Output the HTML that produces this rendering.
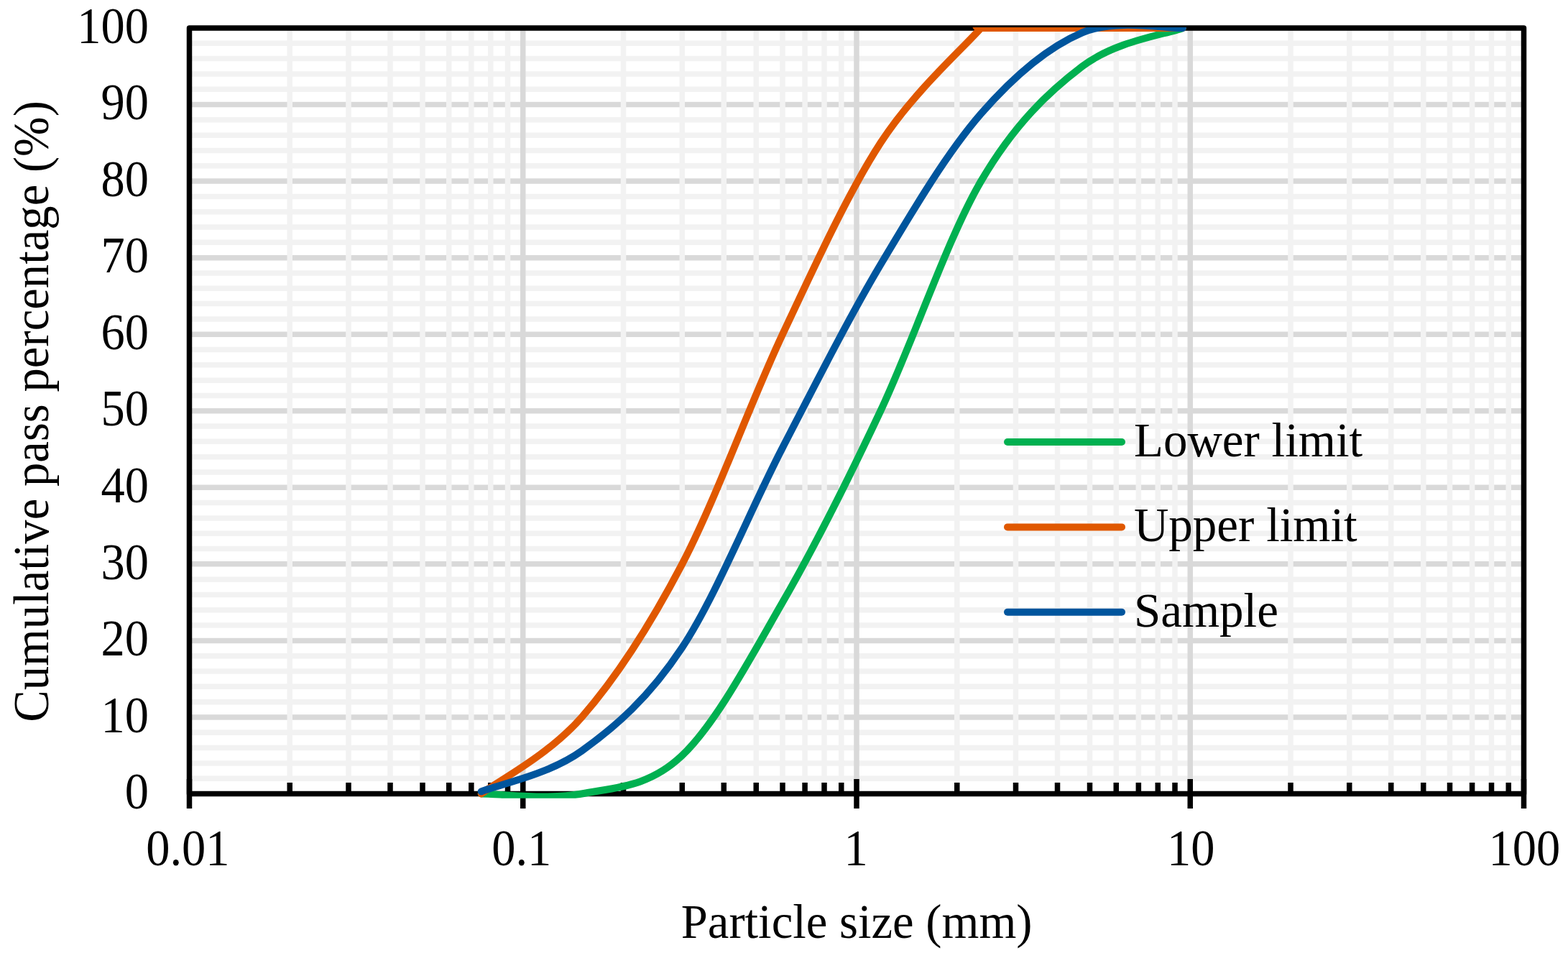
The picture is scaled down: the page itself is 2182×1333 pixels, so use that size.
<!DOCTYPE html><html><head><meta charset="utf-8"><title>Particle size distribution</title>
<style>html,body{margin:0;padding:0;background:#fff;overflow:hidden}svg{display:block}text{font-family:"Liberation Serif", "Times New Roman", serif;fill:#000}</style></head><body>
<svg width="2182" height="1333" viewBox="0 0 2182 1333">
<rect width="2182" height="1333" fill="#fff"/>
<defs><clipPath id="pc"><rect x="0" y="38.0" width="2182" height="1072.8"/></clipPath></defs>
<g stroke="#F2F2F2" stroke-width="7.5">
<line x1="263.5" y1="1083.19" x2="2120.5" y2="1083.19"/>
<line x1="263.5" y1="1061.88" x2="2120.5" y2="1061.88"/>
<line x1="263.5" y1="1040.57" x2="2120.5" y2="1040.57"/>
<line x1="263.5" y1="1019.26" x2="2120.5" y2="1019.26"/>
<line x1="263.5" y1="976.64" x2="2120.5" y2="976.64"/>
<line x1="263.5" y1="955.33" x2="2120.5" y2="955.33"/>
<line x1="263.5" y1="934.02" x2="2120.5" y2="934.02"/>
<line x1="263.5" y1="912.71" x2="2120.5" y2="912.71"/>
<line x1="263.5" y1="870.09" x2="2120.5" y2="870.09"/>
<line x1="263.5" y1="848.78" x2="2120.5" y2="848.78"/>
<line x1="263.5" y1="827.47" x2="2120.5" y2="827.47"/>
<line x1="263.5" y1="806.16" x2="2120.5" y2="806.16"/>
<line x1="263.5" y1="763.54" x2="2120.5" y2="763.54"/>
<line x1="263.5" y1="742.23" x2="2120.5" y2="742.23"/>
<line x1="263.5" y1="720.92" x2="2120.5" y2="720.92"/>
<line x1="263.5" y1="699.61" x2="2120.5" y2="699.61"/>
<line x1="263.5" y1="656.99" x2="2120.5" y2="656.99"/>
<line x1="263.5" y1="635.68" x2="2120.5" y2="635.68"/>
<line x1="263.5" y1="614.37" x2="2120.5" y2="614.37"/>
<line x1="263.5" y1="593.06" x2="2120.5" y2="593.06"/>
<line x1="263.5" y1="550.44" x2="2120.5" y2="550.44"/>
<line x1="263.5" y1="529.13" x2="2120.5" y2="529.13"/>
<line x1="263.5" y1="507.82" x2="2120.5" y2="507.82"/>
<line x1="263.5" y1="486.51" x2="2120.5" y2="486.51"/>
<line x1="263.5" y1="443.89" x2="2120.5" y2="443.89"/>
<line x1="263.5" y1="422.58" x2="2120.5" y2="422.58"/>
<line x1="263.5" y1="401.27" x2="2120.5" y2="401.27"/>
<line x1="263.5" y1="379.96" x2="2120.5" y2="379.96"/>
<line x1="263.5" y1="337.34" x2="2120.5" y2="337.34"/>
<line x1="263.5" y1="316.03" x2="2120.5" y2="316.03"/>
<line x1="263.5" y1="294.72" x2="2120.5" y2="294.72"/>
<line x1="263.5" y1="273.41" x2="2120.5" y2="273.41"/>
<line x1="263.5" y1="230.79" x2="2120.5" y2="230.79"/>
<line x1="263.5" y1="209.48" x2="2120.5" y2="209.48"/>
<line x1="263.5" y1="188.17" x2="2120.5" y2="188.17"/>
<line x1="263.5" y1="166.86" x2="2120.5" y2="166.86"/>
<line x1="263.5" y1="124.24" x2="2120.5" y2="124.24"/>
<line x1="263.5" y1="102.93" x2="2120.5" y2="102.93"/>
<line x1="263.5" y1="81.62" x2="2120.5" y2="81.62"/>
<line x1="263.5" y1="60.31" x2="2120.5" y2="60.31"/>
</g><g stroke="#D9D9D9" stroke-width="7.5">
<line x1="263.5" y1="997.95" x2="2120.5" y2="997.95"/>
<line x1="263.5" y1="891.40" x2="2120.5" y2="891.40"/>
<line x1="263.5" y1="784.85" x2="2120.5" y2="784.85"/>
<line x1="263.5" y1="678.30" x2="2120.5" y2="678.30"/>
<line x1="263.5" y1="571.75" x2="2120.5" y2="571.75"/>
<line x1="263.5" y1="465.20" x2="2120.5" y2="465.20"/>
<line x1="263.5" y1="358.65" x2="2120.5" y2="358.65"/>
<line x1="263.5" y1="252.10" x2="2120.5" y2="252.10"/>
<line x1="263.5" y1="145.55" x2="2120.5" y2="145.55"/>
</g>
<g stroke="#F2F2F2" stroke-width="7.5">
<line x1="403.25" y1="39.0" x2="403.25" y2="1104.5"/>
<line x1="485.00" y1="39.0" x2="485.00" y2="1104.5"/>
<line x1="543.01" y1="39.0" x2="543.01" y2="1104.5"/>
<line x1="588.00" y1="39.0" x2="588.00" y2="1104.5"/>
<line x1="624.76" y1="39.0" x2="624.76" y2="1104.5"/>
<line x1="655.84" y1="39.0" x2="655.84" y2="1104.5"/>
<line x1="682.76" y1="39.0" x2="682.76" y2="1104.5"/>
<line x1="706.51" y1="39.0" x2="706.51" y2="1104.5"/>
<line x1="867.50" y1="39.0" x2="867.50" y2="1104.5"/>
<line x1="949.25" y1="39.0" x2="949.25" y2="1104.5"/>
<line x1="1007.26" y1="39.0" x2="1007.26" y2="1104.5"/>
<line x1="1052.25" y1="39.0" x2="1052.25" y2="1104.5"/>
<line x1="1089.01" y1="39.0" x2="1089.01" y2="1104.5"/>
<line x1="1120.09" y1="39.0" x2="1120.09" y2="1104.5"/>
<line x1="1147.01" y1="39.0" x2="1147.01" y2="1104.5"/>
<line x1="1170.76" y1="39.0" x2="1170.76" y2="1104.5"/>
<line x1="1331.75" y1="39.0" x2="1331.75" y2="1104.5"/>
<line x1="1413.50" y1="39.0" x2="1413.50" y2="1104.5"/>
<line x1="1471.51" y1="39.0" x2="1471.51" y2="1104.5"/>
<line x1="1516.50" y1="39.0" x2="1516.50" y2="1104.5"/>
<line x1="1553.26" y1="39.0" x2="1553.26" y2="1104.5"/>
<line x1="1584.34" y1="39.0" x2="1584.34" y2="1104.5"/>
<line x1="1611.26" y1="39.0" x2="1611.26" y2="1104.5"/>
<line x1="1635.01" y1="39.0" x2="1635.01" y2="1104.5"/>
<line x1="1796.00" y1="39.0" x2="1796.00" y2="1104.5"/>
<line x1="1877.75" y1="39.0" x2="1877.75" y2="1104.5"/>
<line x1="1935.76" y1="39.0" x2="1935.76" y2="1104.5"/>
<line x1="1980.75" y1="39.0" x2="1980.75" y2="1104.5"/>
<line x1="2017.51" y1="39.0" x2="2017.51" y2="1104.5"/>
<line x1="2048.59" y1="39.0" x2="2048.59" y2="1104.5"/>
<line x1="2075.51" y1="39.0" x2="2075.51" y2="1104.5"/>
<line x1="2099.26" y1="39.0" x2="2099.26" y2="1104.5"/>
</g><g stroke="#D9D9D9" stroke-width="7.5">
<line x1="727.75" y1="39.0" x2="727.75" y2="1104.5"/>
<line x1="1192.00" y1="39.0" x2="1192.00" y2="1104.5"/>
<line x1="1656.25" y1="39.0" x2="1656.25" y2="1104.5"/>
</g>
<g stroke="#000" stroke-width="7.5" fill="none">
<rect x="263.5" y="39.0" width="1857.0" height="1065.5" stroke-linejoin="round"/>
<line x1="403.25" y1="1089" x2="403.25" y2="1104.5"/>
<line x1="485.00" y1="1089" x2="485.00" y2="1104.5"/>
<line x1="543.01" y1="1089" x2="543.01" y2="1104.5"/>
<line x1="588.00" y1="1089" x2="588.00" y2="1104.5"/>
<line x1="624.76" y1="1089" x2="624.76" y2="1104.5"/>
<line x1="655.84" y1="1089" x2="655.84" y2="1104.5"/>
<line x1="682.76" y1="1089" x2="682.76" y2="1104.5"/>
<line x1="706.51" y1="1089" x2="706.51" y2="1104.5"/>
<line x1="867.50" y1="1089" x2="867.50" y2="1104.5"/>
<line x1="949.25" y1="1089" x2="949.25" y2="1104.5"/>
<line x1="1007.26" y1="1089" x2="1007.26" y2="1104.5"/>
<line x1="1052.25" y1="1089" x2="1052.25" y2="1104.5"/>
<line x1="1089.01" y1="1089" x2="1089.01" y2="1104.5"/>
<line x1="1120.09" y1="1089" x2="1120.09" y2="1104.5"/>
<line x1="1147.01" y1="1089" x2="1147.01" y2="1104.5"/>
<line x1="1170.76" y1="1089" x2="1170.76" y2="1104.5"/>
<line x1="1331.75" y1="1089" x2="1331.75" y2="1104.5"/>
<line x1="1413.50" y1="1089" x2="1413.50" y2="1104.5"/>
<line x1="1471.51" y1="1089" x2="1471.51" y2="1104.5"/>
<line x1="1516.50" y1="1089" x2="1516.50" y2="1104.5"/>
<line x1="1553.26" y1="1089" x2="1553.26" y2="1104.5"/>
<line x1="1584.34" y1="1089" x2="1584.34" y2="1104.5"/>
<line x1="1611.26" y1="1089" x2="1611.26" y2="1104.5"/>
<line x1="1635.01" y1="1089" x2="1635.01" y2="1104.5"/>
<line x1="1796.00" y1="1089" x2="1796.00" y2="1104.5"/>
<line x1="1877.75" y1="1089" x2="1877.75" y2="1104.5"/>
<line x1="1935.76" y1="1089" x2="1935.76" y2="1104.5"/>
<line x1="1980.75" y1="1089" x2="1980.75" y2="1104.5"/>
<line x1="2017.51" y1="1089" x2="2017.51" y2="1104.5"/>
<line x1="2048.59" y1="1089" x2="2048.59" y2="1104.5"/>
<line x1="2075.51" y1="1089" x2="2075.51" y2="1104.5"/>
<line x1="2099.26" y1="1089" x2="2099.26" y2="1104.5"/>
<line x1="263.50" y1="1084" x2="263.50" y2="1125"/>
<line x1="727.75" y1="1084" x2="727.75" y2="1125"/>
<line x1="1192.00" y1="1084" x2="1192.00" y2="1125"/>
<line x1="1656.25" y1="1084" x2="1656.25" y2="1125"/>
<line x1="2120.50" y1="1084" x2="2120.50" y2="1125"/>
</g>
<g fill="none" stroke-width="10" stroke-linecap="round" stroke-linejoin="round" clip-path="url(#pc)">
<path stroke="#00B050" d="M669.75,1104.50 C693.04,1104.50 762.92,1113.38 809.50,1104.50 C856.08,1095.62 902.67,1095.62 949.25,1051.22 C995.84,1006.83 1042.99,918.04 1089.01,838.12 C1135.03,758.21 1179.35,669.42 1225.37,571.75 C1271.39,474.08 1318.33,332.01 1365.12,252.10 C1411.92,172.19 1459.36,127.79 1506.16,92.27 C1552.95,56.76 1622.62,47.88 1645.91,39.00"/>
<path stroke="#E05800" d="M669.75,1104.50 C693.04,1086.74 762.92,1051.23 809.50,997.95 C856.08,944.68 902.67,873.64 949.25,784.85 C995.84,696.06 1042.99,562.87 1089.01,465.20 C1135.03,367.53 1179.35,269.86 1225.37,198.83 C1271.39,127.79 1341.83,65.64 1365.12,39.00 C1388.42,12.36 1341.62,39.00 1365.12,39.00 C1388.63,39.00 1459.36,39.00 1506.16,39.00 C1552.95,39.00 1622.62,39.00 1645.91,39.00"/>
<path stroke="#00559D" d="M669.75,1101.30 C693.04,1091.89 762.92,1078.22 809.50,1044.83 C856.08,1011.45 902.67,971.31 949.25,900.99 C995.84,830.67 1042.99,711.69 1089.01,622.89 C1135.03,534.10 1179.35,445.67 1225.37,368.24 C1271.39,290.81 1318.33,212.14 1365.12,158.34 C1411.92,104.53 1459.36,65.28 1506.16,45.39 C1552.95,25.50 1622.62,40.07 1645.91,39.00"/>
</g>
<text transform="translate(207,1125.20) scale(1,1.075)" font-size="66.5" text-anchor="end">0</text>
<text transform="translate(207,1018.65) scale(1,1.075)" font-size="66.5" text-anchor="end">10</text>
<text transform="translate(207,912.10) scale(1,1.075)" font-size="66.5" text-anchor="end">20</text>
<text transform="translate(207,805.55) scale(1,1.075)" font-size="66.5" text-anchor="end">30</text>
<text transform="translate(207,699.00) scale(1,1.075)" font-size="66.5" text-anchor="end">40</text>
<text transform="translate(207,592.45) scale(1,1.075)" font-size="66.5" text-anchor="end">50</text>
<text transform="translate(207,485.90) scale(1,1.075)" font-size="66.5" text-anchor="end">60</text>
<text transform="translate(207,379.35) scale(1,1.075)" font-size="66.5" text-anchor="end">70</text>
<text transform="translate(207,272.80) scale(1,1.075)" font-size="66.5" text-anchor="end">80</text>
<text transform="translate(207,166.25) scale(1,1.075)" font-size="66.5" text-anchor="end">90</text>
<text transform="translate(207,59.70) scale(1,1.075)" font-size="66.5" text-anchor="end">100</text>
<text transform="translate(261.35,1203.8) scale(1,1.075)" font-size="66.5" text-anchor="middle">0.01</text>
<text transform="translate(725.70,1203.8) scale(1,1.075)" font-size="66.5" text-anchor="middle">0.1</text>
<text transform="translate(1191.00,1203.8) scale(1,1.075)" font-size="66.5" text-anchor="middle">1</text>
<text transform="translate(1657.20,1203.8) scale(1,1.075)" font-size="66.5" text-anchor="middle">10</text>
<text transform="translate(2121.35,1203.8) scale(1,1.075)" font-size="66.5" text-anchor="middle">100</text>
<text transform="translate(1192.1,1304.6) scale(1,1.01)" font-size="66.7" text-anchor="middle">Particle size (mm)</text>
<text transform="translate(67,572.5) rotate(-90) scale(1,1.035)" font-size="66.7" text-anchor="middle">Cumulative pass percentage (%)</text>
<line x1="1402" y1="615.0" x2="1561" y2="615.0" stroke="#00B050" stroke-width="10" stroke-linecap="round"/>
<text transform="translate(1578,635.0) scale(1,1.02)" font-size="67">Lower limit</text>
<line x1="1402" y1="733.4" x2="1561" y2="733.4" stroke="#E05800" stroke-width="10" stroke-linecap="round"/>
<text transform="translate(1578,753.4) scale(1,1.02)" font-size="67">Upper limit</text>
<line x1="1402" y1="851.7" x2="1561" y2="851.7" stroke="#00559D" stroke-width="10" stroke-linecap="round"/>
<text transform="translate(1578,871.7) scale(1,1.02)" font-size="67">Sample</text>
</svg></body></html>
